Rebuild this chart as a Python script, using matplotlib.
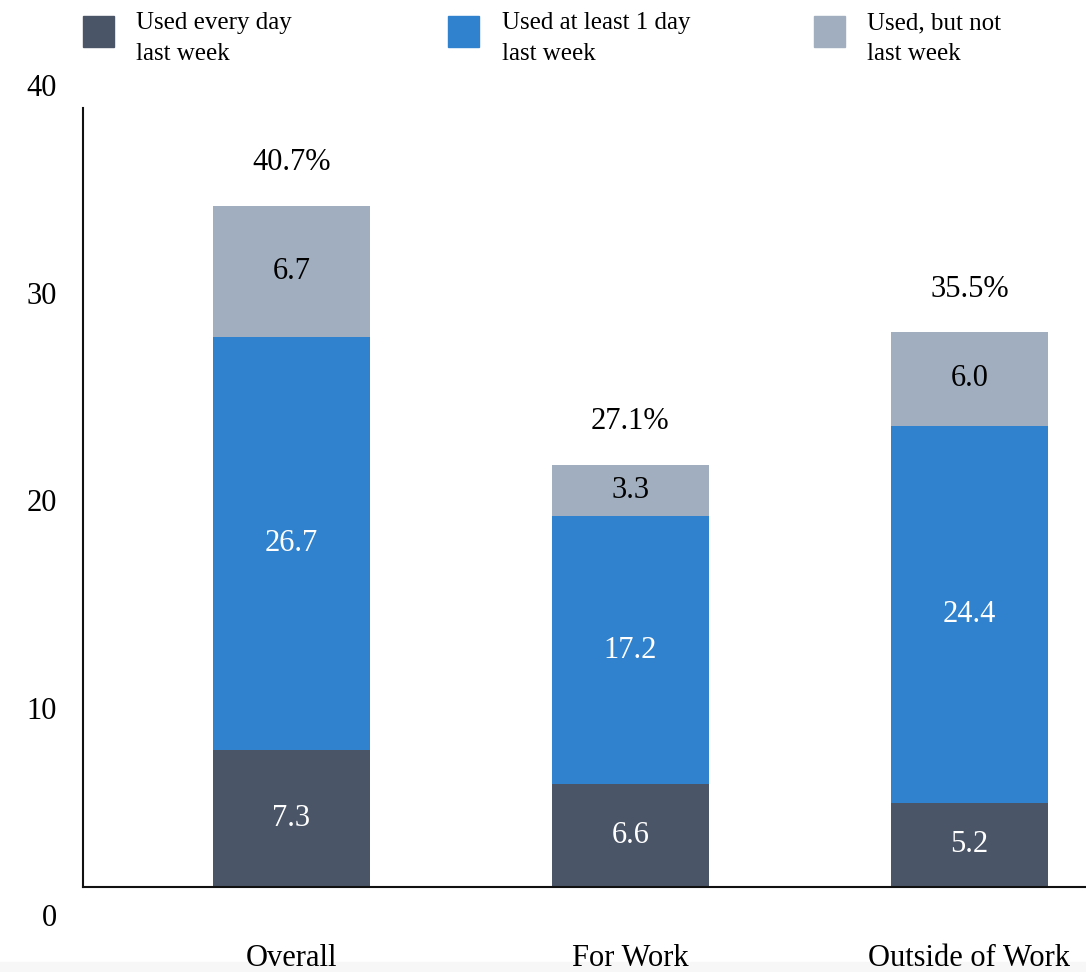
import matplotlib.pyplot as plt
from matplotlib.patches import Rectangle

plt.rcParams['font.family'] = ['Liberation Serif', 'DejaVu Serif']

categories = ['Overall', 'For Work', 'Outside of Work']
series_names = ['Used every day\nlast week', 'Used at least 1 day\nlast week', 'Used, but not\nlast week']
colors = ['#4a5568', '#3182ce', '#a0aec0']
text_colors = ['white', 'white', 'black']

# printed values
every_day = [7.3, 6.6, 5.2]
at_least_1 = [26.7, 17.2, 24.4]
not_last_week = [6.7, 3.3, 6.0]
totals = ['40.7%', '27.1%', '35.5%']

# drawn segment heights, as they appear in the picture
every_day_h = [8.8, 6.6, 5.4]
at_least_1_h = [26.5, 17.2, 24.2]
not_last_week_h = [8.4, 3.3, 6.0]

y_ticks = [0, 10, 20, 30, 40]

fig = plt.figure(figsize=(10.86, 9.72), dpi=100)
ax = fig.add_axes([0.0764, 0.0874, 0.9236, 0.8019])

values = [every_day, at_least_1, not_last_week]
heights = [every_day_h, at_least_1_h, not_last_week_h]
xs = list(range(len(categories)))
bottoms = [0.0] * len(categories)
for vals, hs, c, tc in zip(values, heights, colors, text_colors):
    ax.bar(xs, hs, width=0.463, bottom=bottoms, color=c, edgecolor='none')
    for x, v, h, b in zip(xs, vals, hs, bottoms):
        ax.text(x, b + h / 2, f'{v:.1f}', ha='center', va='center',
                color=tc, fontsize=22)
    bottoms = [b + h for b, h in zip(bottoms, hs)]

for x, top, t in zip(xs, bottoms, totals):
    ax.annotate(t, (x, top), xytext=(0, 31), textcoords='offset points',
                ha='center', va='center', fontsize=22, color='black')

ax.set_xlim(-0.615, 2.344)
ax.set_ylim(0, 50)
ax.set_xticks(xs)
ax.set_xticklabels(categories, fontsize=22)
ax.tick_params(axis='x', length=0, pad=41)
ax.set_yticks([])
for s in ['top', 'right']:
    ax.spines[s].set_visible(False)
for s in ['left', 'bottom']:
    ax.spines[s].set_linewidth(1.5)
    ax.spines[s].set_color('#111111')

# y tick labels sit on their own scale, offset from the bars
tax = fig.add_axes([0.0764, 0.0586, 0.01, 0.8539])
tax.set_ylim(0, 40)
tax.set_yticks(y_ticks)
tax.set_yticklabels([str(t) for t in y_ticks], fontsize=22)
tax.tick_params(axis='y', length=0, pad=18.7)
tax.set_xticks([])
tax.patch.set_visible(False)
for s in tax.spines.values():
    s.set_visible(False)

# legend across the top
for i, (name, c) in enumerate(zip(series_names, colors)):
    x0 = 83 + i * 365.5
    fig.patches.append(Rectangle((x0 / 1086, 1 - 47 / 972), 31 / 1086, 31 / 972,
                                 transform=fig.transFigure, color=c))
    fig.text((x0 + 53) / 1086, 1 - 12 / 972, name, ha='left', va='top',
             fontsize=18, linespacing=1.55)

fig.patches.append(Rectangle((0, 0), 1, 10 / 972, transform=fig.transFigure,
                             color='#f7f7f7', zorder=-1))

fig.savefig('out.png', dpi=100)
